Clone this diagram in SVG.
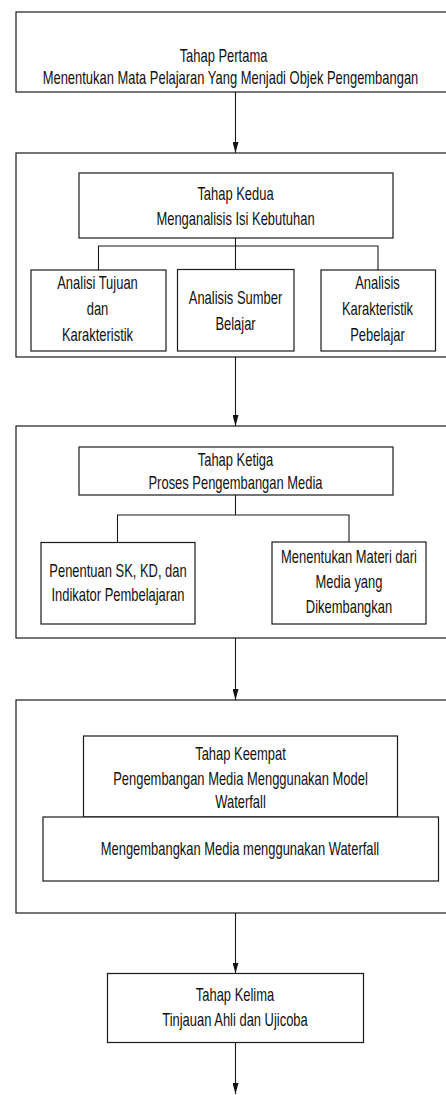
<svg xmlns="http://www.w3.org/2000/svg" width="446" height="1095" viewBox="0 0 446 1095">
<style>
.box{fill:#fff;stroke:#1a1a1a;stroke-width:1.2}
.t{font-family:"Liberation Sans",Arial,sans-serif;font-size:17.5px;fill:#111;text-anchor:middle}
.c{stroke:#1a1a1a;stroke-width:1.1;fill:none}
</style>
<defs>
<marker id="arr" viewBox="0 0 11 6" refX="11" refY="3" markerUnits="userSpaceOnUse" markerWidth="11" markerHeight="6" orient="auto">
<path d="M0,0 L11,3 L0,6 z" fill="#111"/>
</marker>
</defs>
<rect width="446" height="1095" fill="#fff"/>

<g id="tahap1">
<rect class="box" x="16" y="12" width="440" height="80"/>
<text class="t" transform="translate(223.5,0) scale(0.74,1)"><tspan x="0" y="62">Tahap Pertama</tspan></text>
<text class="t" transform="translate(230.5,0) scale(0.74,1)"><tspan x="0" y="84">Menentukan Mata Pelajaran Yang Menjadi Objek Pengembangan</tspan></text>
</g>

<g id="tahap2">
<rect class="box" x="16" y="153" width="440" height="204"/>
</g>
<g id="tahap2-header">
<rect class="box" x="79" y="173" width="314" height="65"/>
<text class="t" transform="translate(235.5,0) scale(0.74,1)"><tspan x="0" y="200">Tahap Kedua</tspan><tspan x="0" y="225">Menganalisis Isi Kebutuhan</tspan></text>
</g>
<g id="analisis-tujuan">
<rect class="box" x="31" y="270" width="135" height="81"/>
<text class="t" transform="translate(97.5,0) scale(0.74,1)"><tspan x="0" y="289">Analisi Tujuan</tspan><tspan x="0" y="315">dan</tspan><tspan x="0" y="341.5">Karakteristik</tspan></text>
</g>
<g id="analisis-sumber">
<rect class="box" x="177.5" y="269.5" width="116.5" height="81.5"/>
<text class="t" transform="translate(235.5,0) scale(0.74,1)"><tspan x="0" y="304">Analisis Sumber</tspan><tspan x="0" y="330">Belajar</tspan></text>
</g>
<g id="analisis-karakteristik">
<rect class="box" x="321" y="270" width="114.5" height="81"/>
<text class="t" transform="translate(377.5,0) scale(0.74,1)"><tspan x="0" y="289">Analisis</tspan><tspan x="0" y="315">Karakteristik</tspan><tspan x="0" y="341.5">Pebelajar</tspan></text>
</g>

<g id="tahap3">
<rect class="box" x="16" y="426" width="440" height="212"/>
</g>
<g id="tahap3-header">
<rect class="box" x="79" y="447" width="314" height="48"/>
<text class="t" transform="translate(235.5,0) scale(0.74,1)"><tspan x="0" y="466.5">Tahap Ketiga</tspan><tspan x="0" y="489.5">Proses Pengembangan Media</tspan></text>
</g>
<g id="penentuan-sk">
<rect class="box" x="41" y="542.5" width="154" height="81.5"/>
<text class="t" transform="translate(118,0) scale(0.74,1)"><tspan x="0" y="577">Penentuan SK, KD, dan</tspan><tspan x="0" y="601">Indikator Pembelajaran</tspan></text>
</g>
<g id="menentukan-materi">
<rect class="box" x="272" y="542" width="154" height="82"/>
<text class="t" transform="translate(349,0) scale(0.74,1)"><tspan x="0" y="563">Menentukan Materi dari</tspan><tspan x="0" y="588">Media yang</tspan><tspan x="0" y="613">Dikembangkan</tspan></text>
</g>

<g id="tahap4">
<rect class="box" x="16" y="700" width="440" height="213"/>
</g>
<g id="tahap4-header">
<rect class="box" x="83.5" y="736" width="314" height="81"/>
<text class="t" transform="translate(240.5,0) scale(0.74,1)"><tspan x="0" y="760.5">Tahap Keempat</tspan><tspan x="0" y="785">Pengembangan Media Menggunakan Model</tspan><tspan x="0" y="808.5">Waterfall</tspan></text>
</g>
<g id="mengembangkan">
<rect class="box" x="43" y="817" width="395.5" height="64"/>
<text class="t" transform="translate(240,0) scale(0.74,1)"><tspan x="0" y="855">Mengembangkan Media menggunakan Waterfall</tspan></text>
</g>

<g id="tahap5">
<rect class="box" x="107.5" y="973.5" width="256" height="69"/>
<text class="t" transform="translate(235,0) scale(0.74,1)"><tspan x="0" y="1001.5">Tahap Kelima</tspan><tspan x="0" y="1026.5">Tinjauan Ahli dan Ujicoba</tspan></text>
</g>

<g id="connectors">
<path class="c" d="M235.5,92 V153" marker-end="url(#arr)"/>
<path class="c" d="M235.5,357 V426" marker-end="url(#arr)"/>
<path class="c" d="M235.5,638 V700" marker-end="url(#arr)"/>
<path class="c" d="M235.5,913 V973.5" marker-end="url(#arr)"/>
<path class="c" d="M235.5,1042.5 V1094" marker-end="url(#arr)"/>
<path class="c" d="M235.5,238 V269.5 M98.5,270 V246 H378 V270"/>
<path class="c" d="M235.5,495 V515 M117.5,542.5 V515 H349 V542"/>
</g>
</svg>
